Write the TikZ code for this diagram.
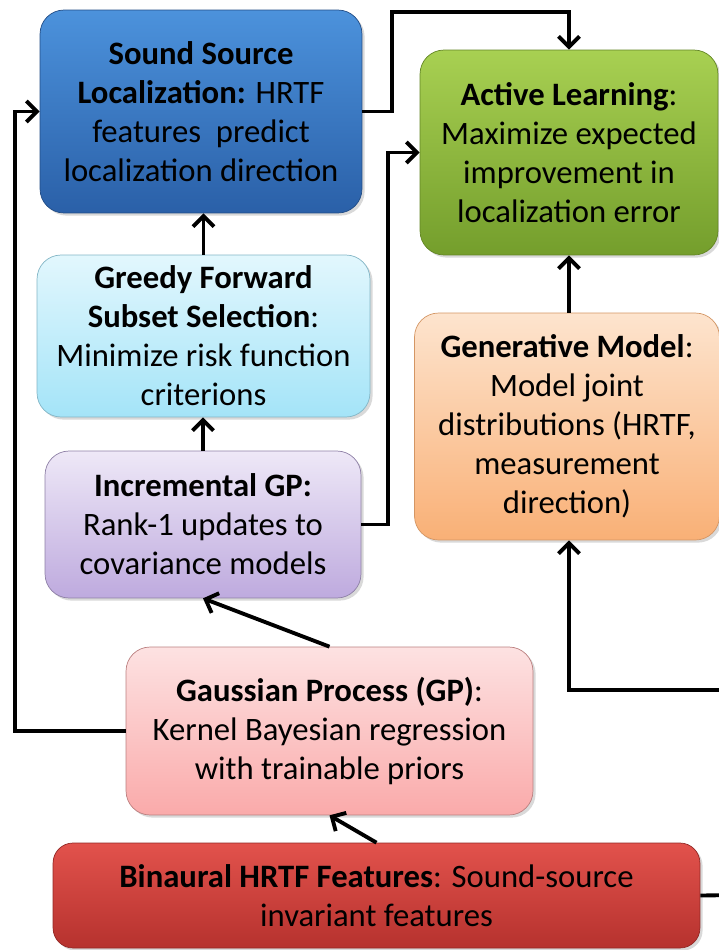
\documentclass[tikz,border=0pt]{standalone}
\usepackage{fontspec}
\setmainfont{Carlito}
\usetikzlibrary{shadows}
\usetikzlibrary{arrows.meta}

\begin{document}
\begin{tikzpicture}[x=0.02cm,y=-0.02cm,->,>={Straight Barb[length=6pt,width=12pt]},
	line width=2.2pt,
	main box/.style={rectangle,rounded corners=0.48cm,thin,draw,align=center,
		font=\fontsize{18.6}{22.2}\selectfont,inner sep=2pt,
		drop shadow={opacity=0.3,shadow xshift=1.5pt,shadow yshift=-1.5pt}}]
	
	\definecolor{locTop}{RGB}{76,146,220}
	\definecolor{locBot}{RGB}{42,96,168}
	\definecolor{actTop}{RGB}{168,208,82}
	\definecolor{actBot}{RGB}{116,158,44}
	\definecolor{grdTop}{RGB}{226,247,253}
	\definecolor{grdBot}{RGB}{164,228,248}
	\definecolor{genTop}{RGB}{253,228,206}
	\definecolor{genBot}{RGB}{249,176,118}
	\definecolor{incTop}{RGB}{238,232,247}
	\definecolor{incBot}{RGB}{190,170,222}
	\definecolor{gpTop}{RGB}{253,226,226}
	\definecolor{gpBot}{RGB}{250,170,170}
	\definecolor{binTop}{RGB}{226,82,76}
	\definecolor{binBot}{RGB}{182,50,46}
	
	\useasboundingbox (0,0) rectangle (719,950);
	
	\node[main box, draw=locBot!80!black, top color=locTop, bottom color=locBot,
		minimum width=6.44cm, minimum height=4.06cm] (loc) at (201,111.5)
		{\textbf{Sound Source}\\ \textbf{Localization:} HRTF\\ features\ \ predict\\ localization direction};
	\node[main box, draw=actBot!85!black, top color=actTop, bottom color=actBot,
		minimum width=5.96cm, minimum height=4.1cm] (active) at (569,152.5)
		{\textbf{Active Learning}:\\ Maximize expected\\ improvement in\\ localization error};
	\node[main box, draw=grdBot!80!black, top color=grdTop, bottom color=grdBot,
		minimum width=6.66cm, minimum height=3.24cm] (greedy) at (203.5,336)
		{\textbf{Greedy Forward}\\ \textbf{Subset Selection}:\\ Minimize risk function\\ criterions};
	\node[main box, draw=genBot!85!black, top color=genTop, bottom color=genBot,
		minimum width=6.1cm, minimum height=4.54cm] (gen) at (567,426.5)
		{\textbf{Generative Model}:\\ Model joint\\ distributions (HRTF,\\ measurement\\ direction)};
	\node[main box, draw=incBot!75!black, top color=incTop, bottom color=incBot,
		minimum width=6.32cm, minimum height=2.94cm] (incr) at (203,524.5)
		{\textbf{Incremental GP:}\\ Rank-1 updates to\\ covariance models};
	\node[main box, draw=gpBot!75!black, top color=gpTop, bottom color=gpBot,
		minimum width=8.14cm, minimum height=3.36cm] (gp) at (329.5,731)
		{\textbf{Gaussian Process (GP)}:\\ Kernel Bayesian regression\\ with trainable priors};
	\node[main box, draw=binBot!80!black, top color=binTop, bottom color=binBot,
		rounded corners=0.4cm, minimum width=12.94cm, minimum height=2.1cm] (bin) at (376.5,895.5)
		{\textbf{Binaural HRTF Features}: Sound-source\\ invariant features};
	
	\coordinate (rin) at (740,690);
	\coordinate (rout) at (740,895);
	
	\draw (loc.east) -- ++(30,0) |- ([yshift=0.76cm]active.north) -- (active.north);
	\draw (incr.east) -- ++(27,0) |- (active.west);
	\draw (greedy.north) -- (greedy.north |- loc.south);
	\draw (incr.north) -- (incr.north |- greedy.south);
	\draw (active.south |- gen.north) -- (active.south);
	\draw (gp.north) -- (incr.south);
	\draw (bin.north) -- (gp.south);
	\draw (gp.west) -- ++(-111,0) |- (loc.west);
	\draw (rin) -| (active.south |- gen.south);
	\draw[-] (bin.east) -- (rout);
\end{tikzpicture}
\end{document}
